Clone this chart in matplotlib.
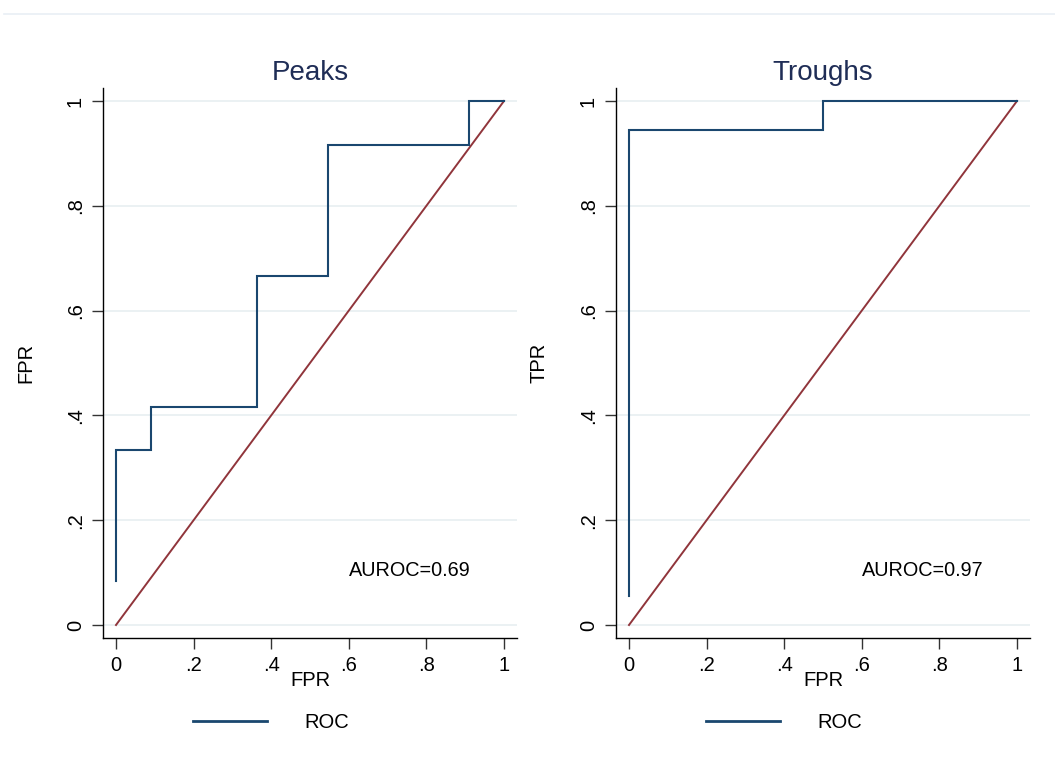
import matplotlib
matplotlib.use("Agg")
import matplotlib.pyplot as plt
from matplotlib.lines import Line2D

plt.rcParams['font.family'] = ['Liberation Sans', 'DejaVu Sans']

# Data
panel_titles = ["Peaks", "Troughs"]
ylabels = ["FPR", "TPR"]
xlabel = "FPR"
peaks_fpr = [0, 0, 0.0909, 0.3636, 0.5455, 0.9091, 1]
peaks_tpr = [0.0833, 0.3333, 0.4167, 0.6667, 0.9167, 1, 1]
troughs_fpr = [0, 0, 0.5, 1]
troughs_tpr = [0.0556, 0.9444, 1, 1]
auroc_labels = ["AUROC=0.69", "AUROC=0.97"]
ticks = [0, 0.2, 0.4, 0.6, 0.8, 1]
tick_labels = ["0", ".2", ".4", ".6", ".8", "1"]
legend_label = "ROC"

roc_color = '#1a476f'
diag_color = '#90353b'
grid_color = '#e8eff1'
title_color = '#1f2d56'

fig = plt.figure(figsize=(10.55, 7.73), dpi=100)
fig.patch.set_facecolor('white')

# faint top border line
fig.add_artist(Line2D([4/1055, 1.0], [1 - 14/773, 1 - 14/773], color='#e9eff5', lw=1.2))

positions = [[103/1055, 1 - 638/773, 414/1055, 550/773],
             [616/1055, 1 - 638/773, 414/1055, 550/773]]
series = [(peaks_fpr, peaks_tpr), (troughs_fpr, troughs_tpr)]

for i in range(2):
    ax = fig.add_axes(positions[i])
    fx, ty = series[i]
    for t in ticks:
        ax.axhline(t, color=grid_color, lw=1.2, zorder=0)
    ax.plot(fx, ty, drawstyle='steps-post', color=roc_color, lw=1.5, zorder=3,
            solid_joinstyle='miter')
    ax.plot([0, 1], [0, 1], color=diag_color, lw=1.4, zorder=2)
    ax.set_xlim(-0.0335, 1.0335)
    ax.set_ylim(-0.0248, 1.0248)
    for s in ['top', 'right']:
        ax.spines[s].set_visible(False)
    for s in ['left', 'bottom']:
        ax.spines[s].set_linewidth(1.0)
        ax.spines[s].set_color('black')
    ax.set_xticks(ticks)
    ax.set_xticklabels(tick_labels, fontsize=14.5)
    ax.set_yticks(ticks)
    ax.set_yticklabels(tick_labels, fontsize=14.5, rotation=90, va='center')
    ax.tick_params(axis='both', length=8, width=1.0, color='#333333', pad=5)
    ax.set_title(panel_titles[i], fontsize=20, color=title_color, pad=6)
    ax.set_xlabel(xlabel, fontsize=14.5, labelpad=-3)
    ax.set_ylabel(ylabels[i], fontsize=14.5, labelpad=22)
    ax.text(0.6, 0.0935, auroc_labels[i], fontsize=14.3, ha='left', va='baseline')

    # legend below panel
    x0 = positions[i][0]
    lx = [x0 + 90/1055, x0 + 164/1055]
    ly = 1 - 721/773
    fig.add_artist(Line2D(lx, [ly, ly], color=roc_color, lw=2.0))
    fig.text(x0 + 201/1055, ly - 1/773, legend_label, fontsize=14.5, ha='left', va='center')

fig.savefig('out.png', dpi=100, facecolor='white')
